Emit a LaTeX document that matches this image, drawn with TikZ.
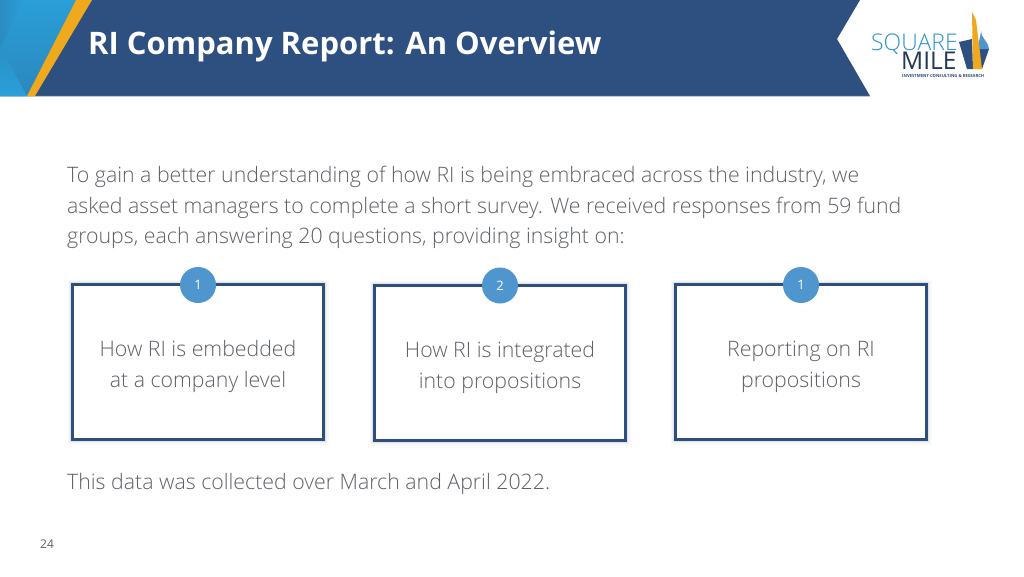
\documentclass[tikz,border=0pt]{standalone}
\usepackage{fontspec}
\setmainfont{Open Sans Light}
\newfontfamily\reg{Open Sans}
\definecolor{navy}{HTML}{2E5080}
\definecolor{framec}{HTML}{2C4F7F}
\definecolor{skyb}{HTML}{2A9FD8}
\definecolor{gold}{HTML}{EFA91F}
\definecolor{bub}{HTML}{5096CE}
\definecolor{txt}{HTML}{5C6167}
\tikzset{x=1pt,y=-1pt,
 card/.style={draw=framec,line width=3pt,fill=white,minimum width=251pt,minimum height=155pt,inner sep=0pt,
   preaction={draw=black,draw opacity=.025,line width=10pt},
   preaction={draw=black,draw opacity=.03,line width=7.5pt},
   preaction={draw=black,draw opacity=.05,line width=5pt}},
 badge/.style={circle,fill=bub,minimum size=36pt,inner sep=0pt,text=white,font=\reg\fontsize{13}{13}\selectfont},
 cardtext/.style={align=center,text=txt,font=\fontsize{21.3}{31}\selectfont},
 para/.style={anchor=west,inner sep=0pt,text=txt,font=\fontsize{21.3}{31}\selectfont}}
\begin{document}
\begin{tikzpicture}
\useasboundingbox (0,0) rectangle (1024,576);
\fill[white] (0,0) rectangle (1024,576);
% banner
\fill[navy] (0,0) -- (860,0) -- (837,39) -- (870,96) -- (0,96) -- cycle;
\fill[black!50,opacity=.5] (0,95.5) -- (869.7,95.5) -- (870,96.5) -- (0,96.5) -- cycle;
\shade[left color=skyb,right color=skyb!70!navy,shading angle=0] (0,0) -- (76,0) -- (27,96) -- (0,96) -- cycle;
\shade[left color=skyb!75!navy,right color=skyb] (0,0) -- (24,0) -- (0,48) -- cycle;
\shade[top color=skyb!80!navy,bottom color=skyb] (0,46) -- (27,96) -- (0,96) -- cycle;
\fill[gold] (76,0) -- (92,0) -- (35,96) -- (27,96) -- cycle;
\node[anchor=west,inner sep=0pt,text=white] (title) at (88,46) {\reg\bfseries\fontsize{31}{31}\selectfont RI Company Report: An Overview};
% logo
\node[anchor=base west,inner sep=0pt,text height=17pt,text depth=0pt,text=skyb!85!navy] (square) at (871,50) {\fontsize{23}{23}\selectfont SQUARE};
\node[anchor=base west,inner sep=0pt,text height=16pt,text depth=0pt,text=navy!70!black] (mile) at (901,69.5) {\reg\fontsize{24.5}{24}\selectfont MILE};
\node[anchor=base west,inner sep=0pt,text=navy] (tag) at (902,77) {\reg\bfseries\fontsize{4.2}{5}\selectfont INVESTMENT CONSULTING \& RESEARCH};
\fill[navy] (959,42) -- (972,39) -- (973,69) -- (967,69) -- cycle;
\fill[navy] (977,49) -- (989,49) -- (982,69) -- (978,69) -- cycle;
\fill[bub] (978,49) .. controls (978,42) and (980,40) .. (981,31) .. controls (982,40) and (989,42) .. (989,49) -- cycle;
\fill[gold] (972,12) -- (976,20) -- (982,69) -- (973,69) -- cycle;
% paragraph
\node[para] (p1) at (67,177) {To gain a better understanding of how RI is being embraced across the industry, we};
\node[para] (p2) at (67,207.5) {asked asset managers to complete a short survey. We received responses from 59 fund};
\node[para] (p3) at (67,238) {groups, each answering 20 questions, providing insight on:};
% cards
\node[card] (c1) at (198,362) {};
\node[card] (c2) at (500,363) {};
\node[card] (c3) at (801,362) {};
\node[cardtext] (t1) at (198,366) {How RI is embedded\\at a company level};
\node[cardtext] (t2) at (500,367) {How RI is integrated\\into propositions};
\node[cardtext] (t3) at (801,366.5) {Reporting on RI\\propositions};
\node[badge] (b1) at (198,285) {1};
\node[badge] (b2) at (500,285.5) {2};
\node[badge] (b3) at (801,285) {1};
\node[para] (foot) at (67,484) {This data was collected over March and April 2022.};
\node[anchor=center,inner sep=0pt,text=txt,font=\reg\fontsize{12}{12}\selectfont] (pg) at (47,544) {24};
\end{tikzpicture}
\end{document}
